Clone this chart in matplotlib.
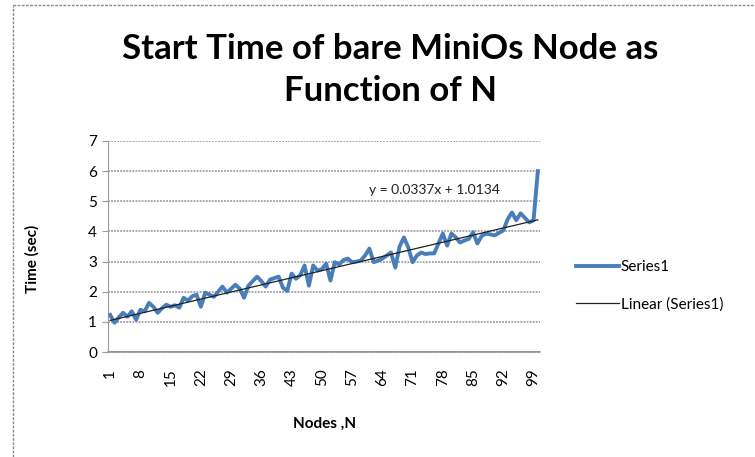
import matplotlib
matplotlib.use("Agg")
import matplotlib.pyplot as plt
from matplotlib.lines import Line2D

plt.rcParams['font.family'] = ['Lato', 'DejaVu Sans']

title = "Start Time of bare MiniOs Node as\nFunction of N"
x_label = "Nodes ,N"
y_label = "Time (sec)"
series_name = "Series1"
trend_name = "Linear (Series1)"
slope = 0.0337
intercept = 1.0134
eq_text = "y = 0.0337x + 1.0134"

nodes = list(range(1, 101))
times = [
    1.23, 0.97, 1.15, 1.30, 1.17, 1.35, 1.07, 1.40, 1.35, 1.63,
    1.50, 1.30, 1.45, 1.57, 1.50, 1.55, 1.47, 1.80, 1.70, 1.85,
    1.90, 1.50, 1.97, 1.90, 1.83, 2.00, 2.17, 1.97, 2.10, 2.23,
    2.10, 1.80, 2.20, 2.35, 2.50, 2.35, 2.17, 2.40, 2.45, 2.50,
    2.13, 2.03, 2.60, 2.43, 2.55, 2.87, 2.20, 2.87, 2.70, 2.75,
    2.93, 2.37, 2.98, 2.90, 3.05, 3.10, 2.98, 3.00, 3.03, 3.20,
    3.43, 2.98, 3.03, 3.10, 3.20, 3.30, 2.80, 3.50, 3.80, 3.47,
    2.98, 3.20, 3.30, 3.25, 3.27, 3.27, 3.60, 3.93, 3.53, 3.93,
    3.80, 3.63, 3.70, 3.75, 3.97, 3.60, 3.85, 3.93, 3.90, 3.87,
    3.95, 4.03, 4.40, 4.63, 4.37, 4.60, 4.45, 4.30, 4.37, 6.00,
]
x_ticks = list(range(1, 101, 7))
y_ticks = [0, 1, 2, 3, 4, 5, 6, 7]

W, H = 755, 457
fig = plt.figure(figsize=(W / 100, H / 100), dpi=100)
fig.patch.set_facecolor('white')
# chart-area border (only top and left edges visible)
fig.add_artist(Line2D([12.5 / W, 1.0], [1 - 5.3 / H, 1 - 5.3 / H], transform=fig.transFigure,
                      color='#8a8a8a', linewidth=1.0, linestyle=(0, (2, 1))))
fig.add_artist(Line2D([12.5 / W, 12.5 / W], [0.0, 1 - 5.3 / H], transform=fig.transFigure,
                      color='#8a8a8a', linewidth=1.0, linestyle=(0, (2, 1))))

ax = fig.add_axes([108 / W, 1 - 352 / H, 432 / W, 211 / H])
ax.plot(nodes, times, color='#4A7EBB', linewidth=2.8, label=series_name, zorder=3)
trend = [slope * n + intercept for n in nodes]
ax.plot(nodes, trend, color='#202020', linewidth=0.9, label=trend_name, zorder=4)

ax.set_xlim(0.5, 100.5)
ax.set_ylim(0, 7)
ax.set_xticks(x_ticks)
ax.set_xticklabels([str(t) for t in x_ticks], rotation=90, fontsize=11)
ax.set_yticks(y_ticks)
ax.set_yticklabels([str(t) for t in y_ticks], fontsize=11)
ax.tick_params(axis='x', length=0, pad=12)
ax.tick_params(axis='y', length=4, color='#9a9a9a', pad=4)
ax.yaxis.grid(True, color='#8f8f8f', linestyle=(0, (1.2, 0.8)), linewidth=1.1)
ax.set_axisbelow(True)
for s in ['top', 'right']:
    ax.spines[s].set_visible(False)
ax.spines['left'].set_color('#9a9a9a')
ax.spines['bottom'].set_color('#8f8f8f')
ax.spines['bottom'].set_linewidth(1.1)
ax.spines['bottom'].set_linestyle((0, (1.2, 0.8)))

ax.text(76, 5.37, eq_text, fontsize=10, ha='center', va='center', color='#222222')

ax.set_xlabel(x_label, fontsize=11, fontweight='bold')
ax.xaxis.set_label_coords((325 - 108) / 432, -(417 - 352) / 211)
ax.set_ylabel(y_label, fontsize=11, fontweight='bold')
ax.yaxis.set_label_coords(-(108 - 40) / 432, 0.44)

fig.text(390 / W, 1 - 70 / H, title, ha='center', va='center', fontsize=25,
         fontweight='bold', linespacing=1.35)

fig.legend(loc='center left', bbox_to_anchor=(0.745, 0.375), frameon=False,
           fontsize=11, handlelength=2.8, labelspacing=1.5, handletextpad=0.1)

fig.savefig('out.png', dpi=100)
